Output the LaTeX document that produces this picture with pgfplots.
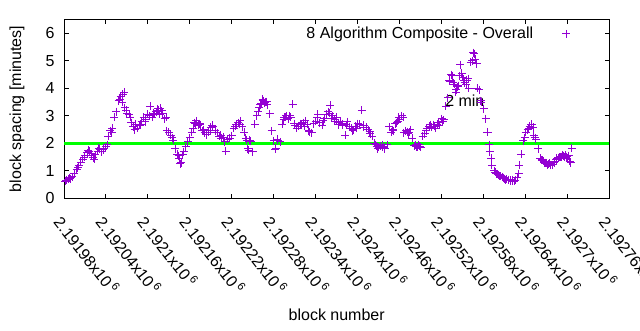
\documentclass[border=0pt]{standalone}
\usepackage{fontspec}
\setmainfont{Liberation Sans}
\usepackage{pgfplots}
\pgfplotsset{compat=1.18}
\definecolor{gpviolet}{RGB}{148,0,211}
\definecolor{gpgreen}{RGB}{0,255,0}
% x values: block number minus 2191980
\pgfplotstableread{
d v
3 0.65
6 0.70
9 0.72
12 0.78
15 0.90
18 1.05
21 1.18
24 1.32
27 1.42
30 1.55
33 1.65
36 1.72
39 1.62
42 1.48
45 1.58
48 1.72
51 1.78
54 1.70
57 1.82
60 1.88
63 2.25
66 2.45
69 2.55
72 2.95
75 3.15
78 3.55
81 3.70
84 3.78
87 3.30
90 3.10
93 3.05
96 2.75
99 2.60
102 2.70
105 2.55
108 2.65
111 2.80
114 2.95
117 2.85
120 3.05
123 3.35
126 2.95
129 3.05
132 3.15
135 3.20
138 3.28
141 3.10
144 2.90
147 2.45
150 2.40
153 2.30
156 2.12
159 1.80
162 1.60
165 1.45
168 1.30
171 1.70
174 1.88
177 2.05
180 2.20
183 2.40
186 2.75
189 2.82
192 2.65
195 2.68
198 2.45
201 2.38
204 2.32
207 2.40
210 2.58
213 2.62
216 2.45
219 2.38
222 2.25
225 2.18
228 2.22
231 1.72
234 2.15
237 2.18
240 2.28
243 2.55
246 2.68
249 2.75
252 2.82
255 2.60
258 2.40
261 2.12
264 1.75
267 2.08
270 1.70
273 2.70
276 3.00
279 3.30
282 3.45
285 3.55
288 3.50
291 3.40
294 3.08
297 2.45
300 2.10
303 1.82
306 2.12
309 2.05
312 2.70
315 2.95
318 3.00
321 2.90
324 2.95
327 3.42
330 2.65
333 2.55
336 2.62
339 2.68
342 2.75
345 2.82
348 2.70
351 2.42
354 2.38
357 2.72
360 2.80
363 3.05
366 2.75
369 2.65
372 2.90
375 3.05
378 3.15
381 3.38
384 3.00
387 2.85
390 2.95
393 2.75
396 2.80
399 2.72
402 2.30
405 2.78
408 2.60
411 2.55
414 2.50
417 2.62
420 2.72
423 2.70
426 3.20
429 2.65
432 2.58
435 2.50
438 2.35
441 2.25
444 2.00
447 1.90
450 1.85
453 1.92
456 1.85
459 1.80
462 1.95
465 2.60
468 2.40
471 2.45
474 2.72
477 2.80
480 2.88
483 3.00
486 2.38
489 2.45
492 2.35
495 2.50
498 2.18
501 1.92
504 1.88
507 1.95
510 1.85
513 2.25
516 2.35
519 2.55
522 2.62
525 2.58
528 2.68
531 2.55
534 2.70
537 2.65
540 2.90
543 2.85
546 3.35
549 3.65
552 4.25
555 4.45
558 4.15
561 3.95
564 4.10
567 4.85
570 4.40
573 4.20
576 4.30
579 4.00
582 4.95
585 5.30
588 5.05
591 4.00
594 3.95
597 3.50
600 3.25
603 2.90
606 2.40
609 1.70
612 1.20
615 1.00
618 0.90
621 0.85
624 0.80
627 0.78
630 0.72
633 0.70
636 0.68
639 0.66
642 0.62
645 0.65
648 0.75
651 1.20
654 1.60
657 2.10
660 2.40
663 2.50
666 2.62
669 2.70
672 2.30
675 2.15
678 1.80
681 1.45
684 1.38
687 1.30
690 1.28
693 1.25
696 1.20
699 1.22
702 1.35
705 1.45
708 1.50
711 1.52
714 1.55
717 1.58
720 1.45
723 1.35
726 1.82
2 0.62
8 0.75
20 1.12
29 1.50
35 1.75
40 1.55
43 1.42
50 1.82
56 1.76
62 1.95
68 2.40
80 3.60
83 3.50
86 3.85
89 3.20
95 2.95
101 2.50
110 2.70
116 2.78
122 3.00
128 3.10
134 3.25
137 3.05
140 3.18
146 2.95
155 2.20
164 1.55
166 1.25
170 1.58
185 2.55
188 2.72
194 2.72
200 2.50
209 2.48
212 2.65
224 2.30
230 2.05
245 2.62
251 2.70
260 2.18
263 1.80
266 2.12
278 3.15
281 3.40
284 3.60
287 3.48
290 3.52
302 1.78
305 2.15
314 2.85
317 2.95
323 3.00
329 2.72
338 2.72
344 2.62
350 2.45
362 2.95
371 2.82
380 3.10
383 2.92
389 2.80
392 2.68
398 2.65
404 2.68
413 2.45
419 2.55
428 2.58
437 2.42
446 1.95
449 1.80
455 1.95
458 1.88
470 2.50
476 2.75
479 2.95
485 2.95
491 2.42
494 2.40
503 1.95
506 1.85
509 1.90
518 2.45
524 2.68
530 2.62
536 2.75
542 2.80
551 4.30
554 4.50
557 4.20
560 3.85
563 4.05
566 4.45
569 4.55
572 4.30
575 4.15
578 4.35
584 5.00
587 5.25
590 4.90
596 3.55
605 2.40
608 1.95
611 1.45
617 0.95
620 0.88
623 0.82
629 0.75
632 0.68
635 0.66
638 0.64
641 0.68
644 0.62
650 0.90
659 2.20
665 2.55
668 2.68
671 2.58
674 2.20
683 1.40
686 1.35
689 1.30
692 1.22
695 1.28
701 1.30
704 1.40
707 1.48
710 1.50
713 1.58
716 1.50
719 1.52
722 1.55
725 1.30
}\blockdata
\newcommand{\tl}[1]{#1x10\hspace{2.5bp}\textsuperscript{6}}
\begin{document}
\fontsize{16bp}{19bp}\selectfont
\color{gpviolet}%
\begin{tikzpicture}[x=1bp,y=1bp]
\useasboundingbox (0,0) rectangle (640,330);
\begin{axis}[
  at={(64bp,131.7bp)}, anchor=south west,
  scale only axis, width=545.4bp, height=178.7bp,
  xmin=0, xmax=780, ymin=0, ymax=6.5,
  xtick={0,60,120,180,240,300,360,420,480,540,600,660,720,780},
  xticklabels={\tl{2.19198},\tl{2.19204},\tl{2.1921},\tl{2.19216},\tl{2.19222},\tl{2.19228},\tl{2.19234},\tl{2.1924},\tl{2.19246},\tl{2.19252},\tl{2.19258},\tl{2.19264},\tl{2.1927},\tl{2.19276}},
  ytick={0,1,2,3,4,5,6},
  /pgf/number format/assume math mode=true,
  tick align=inside,
  major tick length=4.5bp,
  axis line style={black, line width=1bp},
  every tick/.style={black, line width=1bp},
  every tick label/.append style={text=black},
  xticklabel style={rotate=-52, anchor=west, yshift=-17bp, xshift=7bp},
  yticklabel style={xshift=-4bp},
  xlabel={block number},
  ylabel={block spacing [minutes]},
  every axis x label/.style={at={(axis description cs:0.5,0)}, anchor=center, yshift=-116bp, text=black},
  every axis y label/.style={at={(axis description cs:0,0.5)}, xshift=-47bp, rotate=90, anchor=center, text=black},
  legend plot pos=right,
  legend image code/.code={\path[draw=none] (0bp,0bp) -- (27bp,0bp); \path[draw=gpviolet, line width=1bp] plot[mark=+, mark size=4bp] coordinates {(31bp,0bp)};},
  legend style={at={(axis description cs:1,1)}, anchor=north east, draw=none, fill=none, text=black, xshift=-36bp, yshift=-3bp},
  clip=true,
]
\addplot[only marks, mark=+, mark size=4bp, color=gpviolet,
  mark options={draw=gpviolet, line width=1bp}] table[x=d, y=v] {\blockdata};
\addlegendentry{8 Algorithm Composite - Overall}
\addplot[draw=gpgreen, line width=3.5bp, forget plot] coordinates {(0,2) (780,2)};
\node[anchor=west, inner sep=0pt, text=black] at (axis cs:545,3.54) {2 min};
\end{axis}
\end{tikzpicture}
\end{document}
